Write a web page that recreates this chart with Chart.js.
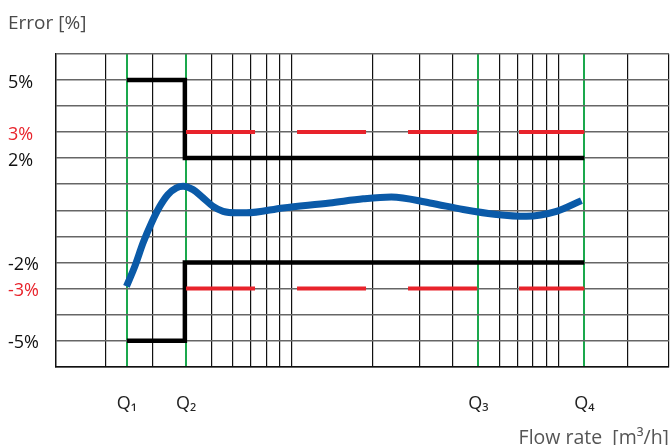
<!DOCTYPE html>
<html>
<head>
<meta charset="utf-8">
<script src="https://cdn.jsdelivr.net/npm/chart.js@4.4.1/dist/chart.umd.min.js"></script>
<style>
  body { margin: 0; background: #fff; }
  #wrap { width: 670px; height: 445px; }
</style>
</head>
<body>
<div id="wrap"><canvas id="errorChart" width="670" height="445"></canvas></div>
<script>
// Q points and their labels
const qValues = [2.4, 4, 50, 125];
const qLabels = ['Q₁', 'Q₂', 'Q₃', 'Q₄'];

// vertical grid (log-ish flow axis)
const gridX = [2, 3, 5, 6, 7, 8, 9, 10, 20, 30, 40, 60, 70, 80, 90, 100, 182, 260];

// y tick labels
const yLabelValues = [5, 3, 2, -2, -3, -5];
const yLabelTexts = ['5%', '3%', '2%', '-2%', '-3%', '-5%'];

// black limits (step)
const limitX = [2.4, 3.96, 3.96, 125];
const upperLimit = [5, 5, 2, 2];
const lowerLimit = [-5, -5, -2, -2];

// red dashed limits
const tolX = [4, 125];
const tolUpper = [3, 3];
const tolLower = [-3, -3];

// meter error curve
const curveX = [2.39, 2.57, 2.76, 2.97, 3.19, 3.42, 3.68, 3.9, 4.25, 4.63, 5.05, 5.51, 6.18, 6.74, 9.25, 13.85, 18.5, 23.6, 32.9, 43.9, 58.5, 75.8, 98.3, 122];
const curveY = [-2.92, -2.15, -1.25, -0.48, 0.15, 0.6, 0.86, 0.92, 0.79, 0.48, 0.15, -0.04, -0.1, -0.1, 0.09, 0.28, 0.44, 0.51, 0.28, 0.03, -0.16, -0.23, -0.04, 0.37];

const RED = '#e8232b';
const GREEN = '#1aa84c';
const FONT = '"Open Sans", sans-serif';

const toPoints = (xs, ys) => xs.map((x, i) => ({ x: x, y: ys[i] }));
const allXTicks = [...gridX, ...qValues].sort((a, b) => a - b);

new Chart(document.getElementById('errorChart'), {
    type: 'line',
    data: {
        datasets: [{
            data: toPoints(tolX, tolUpper),
            borderColor: RED, borderWidth: 4, borderDash: [69, 42], pointRadius: 0
        }, {
            data: toPoints(tolX, tolLower),
            borderColor: RED, borderWidth: 4, borderDash: [69, 42], pointRadius: 0
        }, {
            data: toPoints(limitX, upperLimit),
            borderColor: '#000', borderWidth: 4.5, pointRadius: 0
        }, {
            data: toPoints(limitX, lowerLimit),
            borderColor: '#000', borderWidth: 4.5, pointRadius: 0
        }, {
            data: toPoints(curveX, curveY),
            borderColor: '#0a5aa8', borderWidth: 7, pointRadius: 0,
            cubicInterpolationMode: 'monotone'
        }]
    },
    options: {
        responsive: false,
        animation: false,
        devicePixelRatio: 1,
        layout: { padding: { left: 8, right: 1, top: 0, bottom: 0 } },
        plugins: {
            legend: { display: false },
            tooltip: { enabled: false },
            title: {
                display: true,
                text: 'Error [%]',
                align: 'start',
                color: '#4a4a4a',
                font: { family: FONT, size: 19, weight: 'normal' },
                padding: { top: 12, bottom: 19 }
            }
        },
        scales: {
            x: {
                type: 'logarithmic',
                min: 1.3,
                max: 260,
                afterBuildTicks: scale => {
                    scale.ticks = allXTicks.map(v => ({ value: v }));
                },
                afterFit: scale => {
                    scale.height = 78.3;
                    scale.paddingLeft = 0;
                    scale.paddingRight = 0;
                },
                grid: {
                    drawTicks: false,
                    color: ctx => qValues.includes(ctx.tick && ctx.tick.value) ? GREEN : '#111',
                    lineWidth: ctx => qValues.includes(ctx.tick && ctx.tick.value) ? 2 : 1.2
                },
                border: { color: '#111', width: 1.5 },
                ticks: {
                    autoSkip: false,
                    maxRotation: 0,
                    padding: 26,
                    color: '#222',
                    font: { family: FONT, size: 18 },
                    callback: value => {
                        const i = qValues.indexOf(value);
                        return i >= 0 ? qLabels[i] : '';
                    }
                },
                title: {
                    display: true,
                    text: 'Flow rate  [m³/h]',
                    align: 'end',
                    color: '#555',
                    font: { family: FONT, size: 19.5, lineHeight: 0.7 },
                    padding: { top: 0, bottom: 0 }
                }
            },
            y: {
                min: -6,
                max: 6,
                afterFit: scale => { scale.width = 48; },
                grid: { drawTicks: false, color: '#666', lineWidth: 1.4 },
                border: { color: '#111', width: 1.5 },
                ticks: {
                    stepSize: 1,
                    crossAlign: 'far',
                    labelOffset: 2.5,
                    font: { family: FONT, size: 18 },
                    color: ctx => Math.abs(ctx.tick.value) === 3 ? RED : '#111',
                    callback: value => {
                        const i = yLabelValues.indexOf(value);
                        return i >= 0 ? yLabelTexts[i] : '';
                    }
                }
            }
        }
    }
});
</script>
</body>
</html>
